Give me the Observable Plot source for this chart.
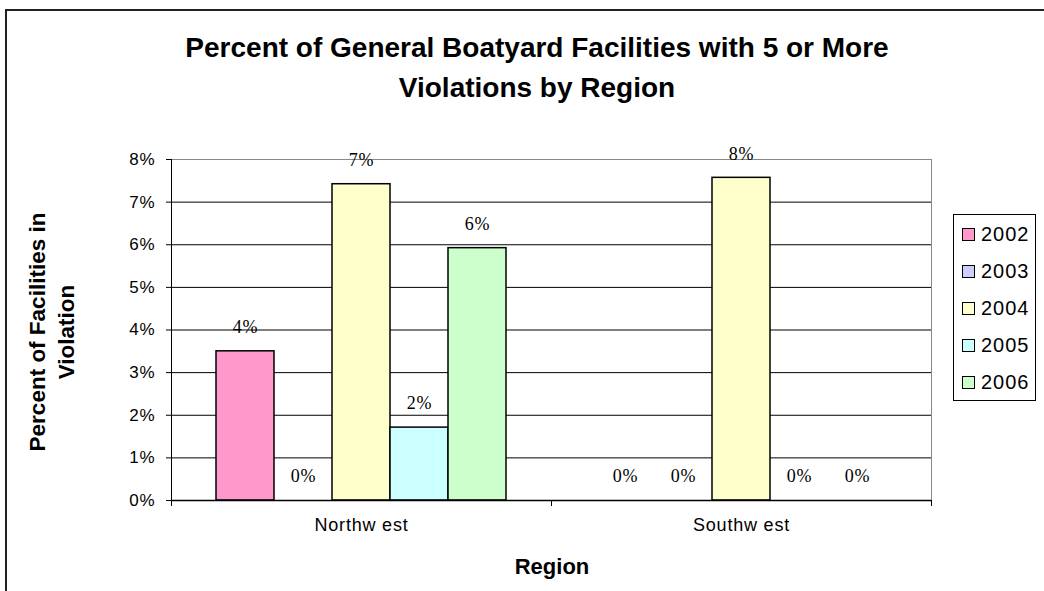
<!DOCTYPE html>
<html>
<head>
<meta charset="utf-8">
<script src="https://cdn.jsdelivr.net/npm/d3@7"></script>
<script src="https://cdn.jsdelivr.net/npm/@observablehq/plot@0.6"></script>
<style>
  html, body { margin: 0; padding: 0; background: #fff; }
  #wrap { position: relative; width: 1044px; height: 591px; overflow: hidden; font-family: "Liberation Sans", Arial, sans-serif; }
  #border { position: absolute; left: 5px; top: 9px; width: 1200px; height: 800px; border: 2px solid #222; box-sizing: border-box; }
  #chart { position: absolute; left: 0; top: 0; }
  #title { position: absolute; left: 0; width: 1074px; top: 28px; text-align: center; font-weight: bold; font-size: 28px; line-height: 40px; color: #000; }
  #ytitle { position: absolute; left: 52px; top: 332px; transform: translate(-50%, -50%) rotate(-90deg); white-space: nowrap; text-align: center; font-weight: bold; font-size: 22.5px; line-height: 29px; }
  #xtitle { position: absolute; left: 552px; top: 567px; transform: translate(-50%, -50%); font-weight: bold; font-size: 22px; }
  #legend { position: absolute; left: 953px; top: 214px; width: 83px; height: 187px; border: 1px solid #000; box-sizing: border-box; padding-top: 1px; }
  .item { height: 37px; display: flex; align-items: center; font-size: 20px; letter-spacing: 1px; }
  .sw { width: 11px; height: 11px; border: 1px solid #000; margin-left: 8px; margin-right: 6px; }
  #chart svg text { letter-spacing: 0.8px; }
</style>
</head>
<body>
<div id="wrap">
  <div id="border"></div>
  <div id="chart"></div>
  <div id="title">Percent of General Boatyard Facilities with 5 or More<br>Violations by Region</div>
  <div id="ytitle">Percent of Facilities in<br>Violation</div>
  <div id="xtitle">Region</div>
  <div id="legend"></div>
</div>
<script>
const regions = ["Northw est", "Southw est"];
const years = ["2002", "2003", "2004", "2005", "2006"];
const northwest = [0.035, 0, 0.0742, 0.0171, 0.0592];
const southwest = [0, 0, 0.0757, 0, 0];
const colors = ["#FF99CC", "#CCCCFF", "#FFFFCC", "#CCFFFF", "#CCFFCC"];
const yTicks = [0, 0.01, 0.02, 0.03, 0.04, 0.05, 0.06, 0.07, 0.08];

const series = [northwest, southwest];
const data = [];
regions.forEach((r, i) => years.forEach((y, j) => data.push({region: r, year: y, value: series[i][j]})));

const fmt = d3.format(".0%");

const chart = Plot.plot({
  width: 1044,
  height: 591,
  marginLeft: 171,
  marginRight: 113,
  marginTop: 159,
  marginBottom: 91,
  style: {fontFamily: "'Liberation Sans', Arial, sans-serif", background: "transparent", color: "#000"},
  fx: {domain: regions, padding: 0, label: null},
  x: {domain: years, paddingInner: 0, paddingOuter: 0.75, axis: null},
  y: {domain: [0, 0.08]},
  color: {domain: years, range: colors},
  marks: [
    Plot.gridY(yTicks.slice(0, -1), {stroke: "#000", strokeOpacity: 1}),
    Plot.ruleY([0.08], {stroke: "#888"}),
    Plot.frame({anchor: "right", stroke: "#888", facetAnchor: "right"}),
    Plot.barY(data.filter(d => d.value > 0), {fx: "region", x: "year", y: "value", fill: "year", stroke: "#000", strokeWidth: 1.5}),
    Plot.text(data, {fx: "region", x: "year", y: "value", text: d => fmt(d.value), dy: -24, fontFamily: "'Liberation Serif', 'Times New Roman', serif", fontSize: 18, fill: "#000"}),
    Plot.ruleY([0], {stroke: "#000", strokeWidth: 1.5}),
    Plot.frame({anchor: "left", stroke: "#000", facetAnchor: "left"}),
    Plot.frame({anchor: "left", stroke: "#000", insetTop: 341, insetBottom: -5}),
    Plot.frame({anchor: "right", stroke: "#000", insetTop: 341, insetBottom: -5}),
    Plot.axisY({ticks: yTicks, tickFormat: fmt, tickSize: 5, tickPadding: 11, fontSize: 17, label: null, stroke: "#000"}),
    Plot.axisFx({anchor: "bottom", tickSize: 0, tickPadding: 18, fontSize: 18, label: null})
  ]
});
document.getElementById("chart").appendChild(chart);

const legend = document.getElementById("legend");
years.forEach((y, i) => {
  const item = document.createElement("div");
  item.className = "item";
  const sw = document.createElement("div");
  sw.className = "sw";
  sw.style.background = colors[i];
  const t = document.createElement("span");
  t.textContent = y;
  item.appendChild(sw);
  item.appendChild(t);
  legend.appendChild(item);
});
</script>
</body>
</html>
